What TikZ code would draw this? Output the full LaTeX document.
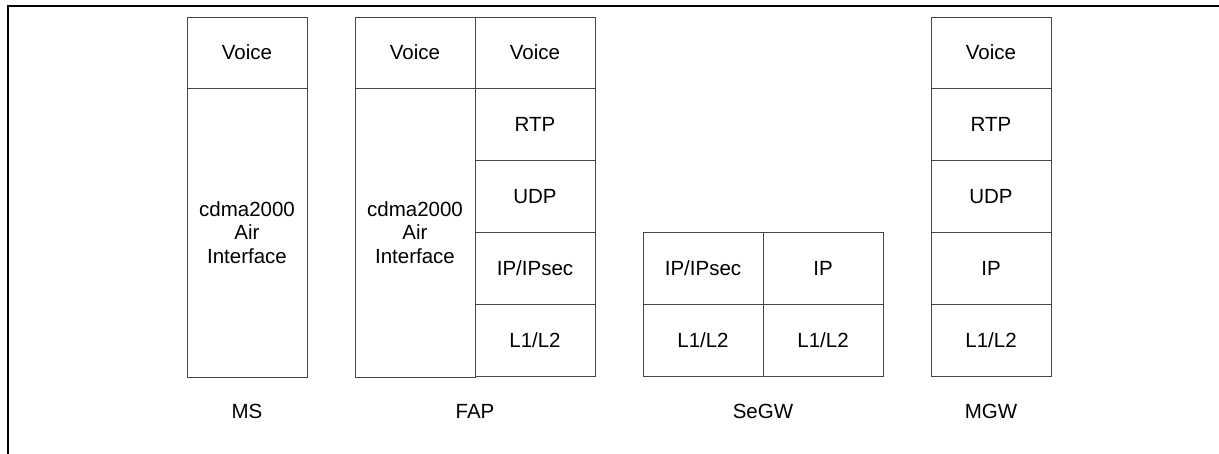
\documentclass[tikz,border=0pt]{standalone}
\usepackage{fontspec}
\setmainfont{Liberation Sans}
\begin{document}
\begin{tikzpicture}[x=1pt,y=-1pt,
  cell/.style={draw=black!72, line width=1pt, minimum width=120pt,
    minimum height=72pt, inner sep=0pt, align=center,
    font=\fontsize{20.5}{23.5}\selectfont},
  tall/.style={cell, minimum height=289pt},
  caption/.style={inner sep=0pt, font=\fontsize{20.5}{23.5}\selectfont}]
\useasboundingbox (0,0) rectangle (1219,453);

% frame
\draw[line width=2pt, line cap=rect] (8,453) -- (8,6) -- (1219,6);

% MS
\node[cell, minimum height=71pt] (msvoice) at (247,52.5) {Voice};
\node[tall] (msair) at (247,232.5) {cdma2000\\Air\\Interface};
\node[caption] (ms) at (247,411) {MS};

% FAP
\node[cell, minimum height=71pt] (fapvoiceL) at (415,52.5) {Voice};
\node[tall] (fapair) at (415,232.5) {cdma2000\\Air\\Interface};
\node[cell, minimum height=71pt] (fapvoiceR) at (535,52.5) {Voice};
\node[cell] (faprtp) at (535,124.5) {RTP};
\node[cell] (fapudp) at (535,196.5) {UDP};
\node[cell] (fapip) at (535,268.5) {IP/IPsec};
\node[cell] (fapl) at (535,340.5) {L1/L2};
\node[caption] (fap) at (475,411) {FAP};

% SeGW
\node[cell] (segwipsec) at (703,268.5) {IP/IPsec};
\node[cell] (segwip) at (823,268.5) {IP};
\node[cell] (segwlA) at (703,340.5) {L1/L2};
\node[cell] (segwlB) at (823,340.5) {L1/L2};
\node[caption] (segw) at (763,411) {SeGW};

% MGW
\node[cell, minimum height=71pt] (mgwvoice) at (991,52.5) {Voice};
\node[cell] (mgwrtp) at (991,124.5) {RTP};
\node[cell] (mgwudp) at (991,196.5) {UDP};
\node[cell] (mgwip) at (991,268.5) {IP};
\node[cell] (mgwl) at (991,340.5) {L1/L2};
\node[caption] (mgw) at (991,411) {MGW};
\end{tikzpicture}
\end{document}
